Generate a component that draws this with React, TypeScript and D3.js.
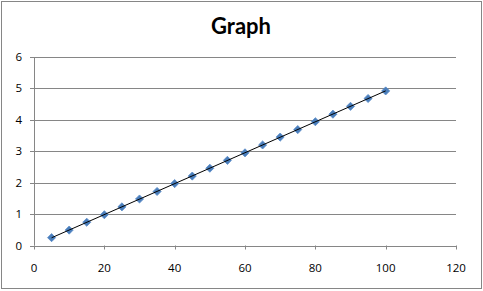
import React from "react";
import * as d3 from "d3";

const title = "Graph";
const xValues = [5, 10, 15, 20, 25, 30, 35, 40, 45, 50, 55, 60, 65, 70, 75, 80, 85, 90, 95, 100];
const yValues = [0.25, 0.49, 0.74, 0.98, 1.23, 1.48, 1.72, 1.97, 2.21, 2.46, 2.71, 2.95, 3.2, 3.45, 3.69, 3.94, 4.18, 4.43, 4.68, 4.92];
const xTicks = [0, 20, 40, 60, 80, 100, 120];
const yTicks = [0, 1, 2, 3, 4, 5, 6];

const W = 483;
const H = 291;
const M = { left: 34, right: 456, top: 57, bottom: 245.5 };

export default function App() {
  const x = d3.scaleLinear().domain([0, 120]).range([M.left, M.right]);
  const y = d3.scaleLinear().domain([0, 6]).range([M.bottom, M.top]);

  // least-squares trend line
  const mx = d3.mean(xValues) as number;
  const my = d3.mean(yValues) as number;
  let num = 0, den = 0;
  xValues.forEach((xv, i) => {
    num += (xv - mx) * (yValues[i] - my);
    den += (xv - mx) * (xv - mx);
  });
  const slope = num / den;
  const icpt = my - slope * mx;
  const x0 = d3.min(xValues) as number;
  const x1 = d3.max(xValues) as number;
  const trend = d3.line<number>().x((d) => x(d)).y((d) => y(icpt + slope * d))([x0, x1]) as string;

  const diamond = d3.symbol().type(d3.symbolDiamond2).size(42)() as string;
  const font = "'Open Sans', 'Liberation Sans', sans-serif";

  return (
    <div style={{ position: "fixed", left: 0, top: 0, width: W, height: H, background: "#fff" }}>
      <svg width={W} height={H} style={{ display: "block" }}>
        <rect x={0} y={0} width={W} height={H} fill="#fff" />
        <rect x={1.5} y={1.5} width={480} height={287} fill="#fff" stroke="#868686" strokeWidth={1} />
        <text x={241} y={34} textAnchor="middle" fontFamily="Lato, 'Open Sans', sans-serif" fontWeight="bold" fontSize={22} fill="#000">
          {title}
        </text>
        {yTicks.map((t) => (
          <g key={"y" + t}>
            <line x1={M.left - 4} x2={M.right} y1={Math.round(y(t)) + 0.5} y2={Math.round(y(t)) + 0.5} stroke="#868686" strokeWidth={1} />
            <text x={22} y={y(t) + 4} textAnchor="end" fontFamily={font} fontSize={11.5} fill="#000">
              {t}
            </text>
          </g>
        ))}
        <line x1={M.left + 0.5} x2={M.left + 0.5} y1={M.top} y2={M.bottom} stroke="#868686" strokeWidth={1} />
        {xTicks.map((t) => (
          <g key={"x" + t}>
            <line x1={Math.round(x(t)) + 0.5} x2={Math.round(x(t)) + 0.5} y1={M.bottom} y2={M.bottom + 4} stroke="#868686" strokeWidth={1} />
            <text x={x(t)} y={272} textAnchor="middle" fontFamily={font} fontSize={11.5} fill="#000">
              {t}
            </text>
          </g>
        ))}
        {xValues.map((xv, i) => (
          <path
            key={"p" + i}
            d={diamond}
            transform={`translate(${x(xv)},${y(yValues[i])})`}
            fill="#4a7ebb"
            stroke="#5b8cc8"
            strokeWidth={0.8}
          />
        ))}
        <path d={trend} fill="none" stroke="#000" strokeWidth={1} />
      </svg>
    </div>
  );
}
